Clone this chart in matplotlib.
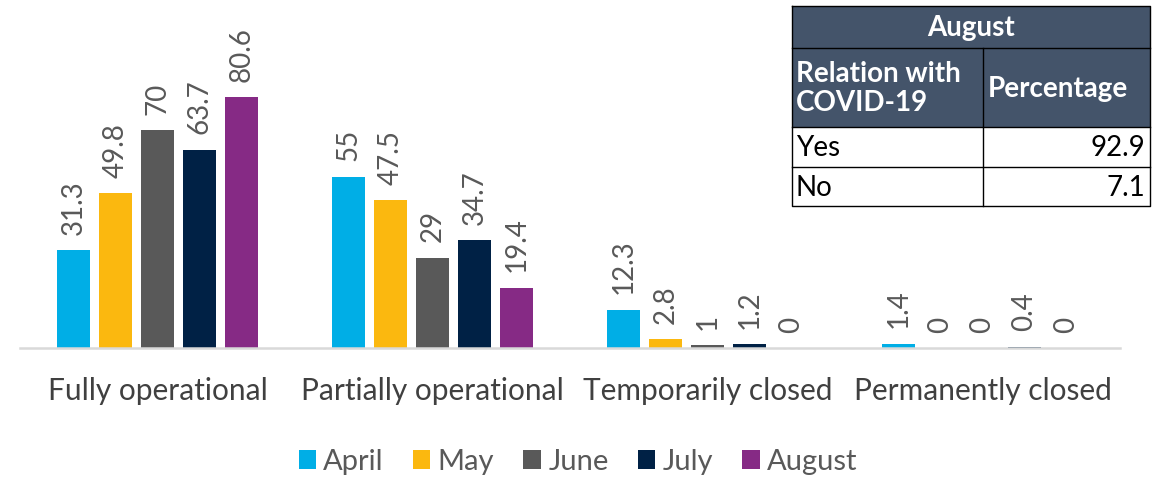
import matplotlib
matplotlib.use("Agg")
import matplotlib.pyplot as plt
from matplotlib.patches import Rectangle
import numpy as np

categories = ["Fully operational", "Partially operational", "Temporarily closed", "Permanently closed"]
months = ["April", "May", "June", "July", "August"]
april = [31.3, 55, 12.3, 1.4]
may = [49.8, 47.5, 2.8, 0]
june = [70, 29, 1, 0]
july = [63.7, 34.7, 1.2, 0.4]
august = [80.6, 19.4, 0, 0]
series = [april, may, june, july, august]
colors = ["#00AEE6", "#FBB80F", "#595959", "#002145", "#862A85"]

table_title = "August"
table_headers = ["Relation with\nCOVID-19", "Percentage"]
table_rows = ["Yes", "No"]
table_values = [92.9, 7.1]

plt.rcParams['font.family'] = ['Lato', 'DejaVu Sans']
W, H = 1158, 478
fig = plt.figure(figsize=(W / 100, H / 100), dpi=100)

def fx(px):
    return px / W

def fy(py):
    return 1 - py / H

ax_left, ax_right = 20, 1120
ax_bottom, ax_top = 348, 67.6
ax = fig.add_axes([fx(ax_left), fy(ax_bottom), fx(ax_right - ax_left), (ax_bottom - ax_top) / H])
ax.set_xlim(-0.5, 3.5)
ax.set_ylim(0, 90)

x = np.arange(len(categories))
step = 42 / 275
width = 33 / 275
for i, (vals, c, m) in enumerate(zip(series, colors, months)):
    pos = x + (i - 2) * step
    bars = ax.bar(pos, vals, width=width, color=c, label=m, zorder=2)
    for p, v in zip(pos, vals):
        ax.annotate(f"{v:g}", (p, v), xytext=(0, 11), textcoords="offset points",
                    rotation=90, ha="center", va="bottom", fontsize=20,
                    color="#595959", annotation_clip=False)

for s in ["top", "right", "left"]:
    ax.spines[s].set_visible(False)
ax.spines["bottom"].set_color("#D9D9D9")
ax.spines["bottom"].set_linewidth(1.8)
ax.set_yticks([])
ax.set_xticks(x)
ax.set_xticklabels(categories, fontsize=21.5, color="#404040")
ax.tick_params(axis="x", length=0, pad=21)

leg = fig.legend(loc="center", bbox_to_anchor=(fx(578), fy(462)), ncol=5, frameon=False,
                 fontsize=21, handlelength=0.6, handleheight=0.6, handletextpad=0.25,
                 columnspacing=1.0, labelcolor="#595959")

# table
tx0, tx1, tcol = 792, 1150, 983
ty = [6, 48, 127, 167, 206]
hdr = "#44546A"
tax = fig.add_axes([0, 0, 1, 1])
tax.set_xlim(0, W)
tax.set_ylim(H, 0)
tax.axis("off")
tax.add_patch(Rectangle((tx0, ty[0]), tx1 - tx0, ty[2] - ty[0], facecolor=hdr, edgecolor="none"))
tax.add_patch(Rectangle((tx0, ty[2]), tx1 - tx0, ty[4] - ty[2], facecolor="white", edgecolor="none"))
lw = 1.0
tax.plot([tx0, tx1, tx1, tx0, tx0], [ty[0], ty[0], ty[4], ty[4], ty[0]], color="black", lw=lw)
for yy in ty[1:4]:
    tax.plot([tx0, tx1], [yy, yy], color="black", lw=lw)
tax.plot([tcol, tcol], [ty[1], ty[4]], color="black", lw=lw)
tfs = 20
tax.text((tx0 + tx1) / 2, (ty[0] + ty[1]) / 2 + 1, table_title, ha="center", va="center",
         color="white", fontsize=tfs, fontweight="bold")
tax.text(tx0 + 4, (ty[1] + ty[2]) / 2 + 1, table_headers[0], ha="left", va="center",
         color="white", fontsize=tfs, fontweight="bold", linespacing=1.1)
tax.text(tcol + 5, (ty[1] + ty[2]) / 2 + 1, table_headers[1], ha="left", va="center",
         color="white", fontsize=tfs, fontweight="bold")
for i, (r, v) in enumerate(zip(table_rows, table_values)):
    yc = (ty[2 + i] + ty[3 + i]) / 2 + 1
    tax.text(tx0 + 4, yc, r, ha="left", va="center", color="black", fontsize=tfs)
    tax.text(tx1 - 5, yc, f"{v:g}", ha="right", va="center", color="black", fontsize=tfs)

fig.savefig("out.png", dpi=100)
